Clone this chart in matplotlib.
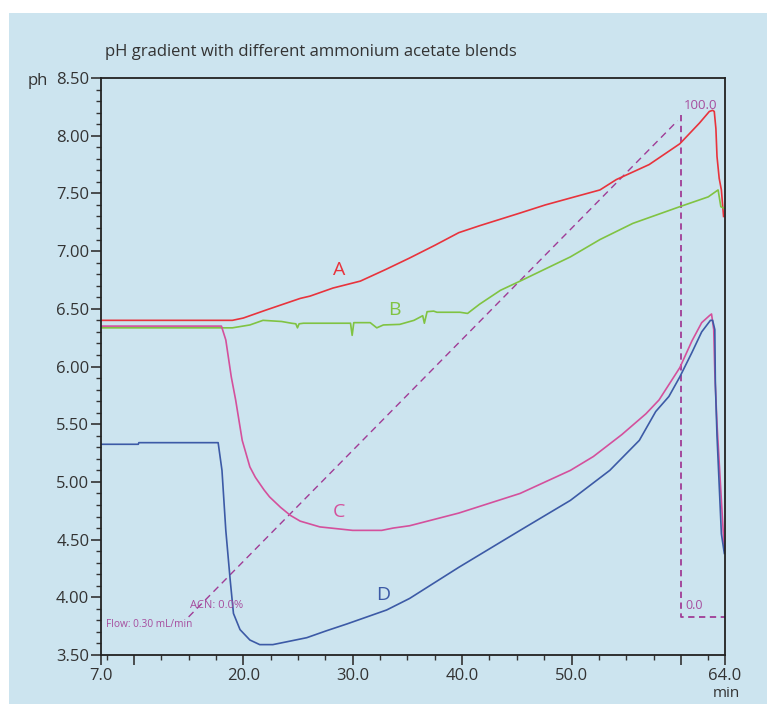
import matplotlib
matplotlib.use("Agg")
import matplotlib.pyplot as plt
from matplotlib.patches import Rectangle
from matplotlib.ticker import MultipleLocator, FormatStrFormatter

plt.rcParams["font.family"] = ["Open Sans", "DejaVu Sans"]

# curve A (red)
a_t = [7, 19.0, 20.0, 22.1, 25.2, 26.1, 28.2, 30.7, 33.0, 35.2, 37.5, 39.7, 41.6,
       45.3, 47.6, 49.9, 52.6, 54.1, 57.1, 59.9, 61.7, 62.6, 62.9, 63.05, 63.2,
       63.3, 63.5, 63.7, 63.9]
a_ph = [6.40, 6.40, 6.42, 6.49, 6.59, 6.61, 6.68, 6.74, 6.84, 6.94, 7.05, 7.16, 7.22,
        7.33, 7.40, 7.46, 7.53, 7.62, 7.75, 7.93, 8.11, 8.21, 8.22, 8.21, 8.06,
        7.82, 7.63, 7.53, 7.30]

# curve B (green)
b_t = [7, 19.0, 20.6, 21.8, 23.5, 24.4, 24.8, 24.95, 25.1, 25.5, 29.8, 29.95, 30.1,
       31.6, 32.2, 32.8, 34.3, 35.6, 36.4, 36.55, 36.8, 37.4, 37.7, 39.8, 40.5,
       41.6, 43.5, 45.3, 49.9, 52.6, 55.6, 59.9, 62.5, 63.4, 63.65, 63.95]
b_ph = [6.335, 6.335, 6.36, 6.40, 6.39, 6.375, 6.37, 6.335, 6.37, 6.375, 6.375, 6.27, 6.38,
        6.38, 6.335, 6.36, 6.365, 6.40, 6.44, 6.375, 6.475, 6.48, 6.47, 6.47, 6.46,
        6.54, 6.66, 6.74, 6.95, 7.10, 7.24, 7.385, 7.47, 7.53, 7.385, 7.37]

# curve C (pink)
c_t = [7, 18.0, 18.4, 18.9, 19.3, 19.9, 20.6, 21.1, 21.9, 22.4, 23.4, 24.3, 25.2,
       27.0, 30.0, 32.65, 33.7, 35.2, 39.7, 45.3, 49.9, 52.0, 54.6, 56.8, 58.0,
       59.9, 61.0, 61.9, 62.6, 62.8, 63.0, 63.1, 63.3, 63.7, 63.97]
c_ph = [6.35, 6.35, 6.23, 5.91, 5.71, 5.36, 5.13, 5.04, 4.93, 4.87, 4.78, 4.71, 4.66,
        4.61, 4.58, 4.58, 4.60, 4.62, 4.73, 4.90, 5.10, 5.22, 5.41, 5.59, 5.71,
        5.99, 6.22, 6.38, 6.44, 6.455, 6.32, 5.95, 5.50, 4.84, 4.41]

# curve D (blue)
d_t = [7, 10.4, 10.45, 17.7, 18.05, 18.4, 18.8, 19.1, 19.7, 20.6, 21.5, 22.7, 24.0,
       25.8, 27.6, 29.5, 33.1, 35.2, 39.7, 45.3, 49.9, 53.5, 56.2, 57.7, 58.9, 59.9,
       61.0, 61.9, 62.7, 62.9, 63.1, 63.15, 63.3, 63.7, 63.97]
d_ph = [5.326, 5.326, 5.34, 5.34, 5.10, 4.58, 4.15, 3.86, 3.72, 3.63, 3.59, 3.59, 3.615,
        3.65, 3.71, 3.77, 3.89, 3.99, 4.26, 4.58, 4.84, 5.10, 5.36, 5.61, 5.74, 5.91,
        6.12, 6.30, 6.40, 6.40, 6.32, 5.85, 5.40, 4.55, 4.38]

# ACN gradient trace (drawn in pH units)
acn_t = [15.0, 59.7]
acn_ph = [3.83, 8.13]
step_t = [60, 60, 64]
step_ph = [8.18, 3.83, 3.83]

x_ticks = [7, 10, 20, 30, 40, 50, 60, 64]
x_labels = ["7.0", "", "20.0", "30.0", "40.0", "50.0", "", "64.0"]

red = "#e8333c"
green = "#80c342"
pink = "#d4509c"
blue = "#3c5aa6"
purple = "#a03c96"
ink = "#333333"

fig = plt.figure(figsize=(7.67, 7.04), dpi=100)
fig.patch.set_facecolor("white")
# light blue panel behind the chart
panel = Rectangle((9 / 767, 0), 1 - 9 / 767, (704 - 13) / 704,
                  transform=fig.transFigure, facecolor="#cce4ef",
                  edgecolor="none", zorder=-10)
fig.add_artist(panel)

ax = fig.add_axes([0.1318, 0.0696, 0.813, 0.8196])
ax.set_facecolor("none")

# gradient lines
ax.plot(acn_t, acn_ph, color=purple, lw=1.0, dashes=(5, 3.5))
ax.plot(step_t, step_ph, color=purple, lw=1.3, dashes=(3.5, 2.5), clip_on=False)

# pH curves
ax.plot(a_t, a_ph, color=red, lw=1.2)
ax.plot(b_t, b_ph, color=green, lw=1.2)
ax.plot(c_t, c_ph, color=pink, lw=1.2)
ax.plot(d_t, d_ph, color=blue, lw=1.2)

# curve letters
ax.text(28.75, 6.795, "A", color=red, fontsize=14, ha="center", va="baseline")
ax.text(33.8, 6.446, "B", color=green, fontsize=14, ha="center", va="baseline")
ax.text(28.75, 4.70, "C", color=pink, fontsize=14, ha="center", va="baseline")
ax.text(32.8, 3.977, "D", color=blue, fontsize=14, ha="center", va="baseline")

# gradient annotations
tcol = "#a64d9e"
ax.text(61.8, 8.229, "100.0", color=tcol, fontsize=9.5, ha="center", va="baseline")
ax.text(61.2, 3.899, "0.0", color=tcol, fontsize=9, ha="center", va="baseline")
ax.text(17.6, 3.907, "ACN: 0.0%", color=tcol, fontsize=8, ha="center", va="baseline")
ax.text(11.4, 3.743, "Flow: 0.30 mL/min", color=tcol, fontsize=7.3, ha="center", va="baseline")

ax.set_xlim(7, 64)
ax.set_ylim(3.5, 8.5)

ax.set_xticks(x_ticks)
ax.set_xticklabels(x_labels)
ax.xaxis.set_minor_locator(MultipleLocator(2.5))
ax.yaxis.set_major_locator(MultipleLocator(0.5))
ax.yaxis.set_major_formatter(FormatStrFormatter("%.2f"))
ax.yaxis.set_minor_locator(MultipleLocator(0.1))

ax.tick_params(which="major", direction="out", length=7, width=1.2, color=ink,
               labelsize=12, labelcolor=ink)
ax.tick_params(which="minor", direction="out", length=3.5, width=1.0, color=ink)
ax.tick_params(axis="y", which="major", pad=1.5)
ax.tick_params(axis="x", which="major", pad=2.5)

for s in ax.spines.values():
    s.set_color("#222222")
    s.set_linewidth(1.3)

# title and axis labels
fig.text(105 / 767, 1 - 56 / 704, "pH gradient with different ammonium acetate blends",
         fontsize=12, color=ink, ha="left", va="baseline")
fig.text(28 / 767, 1 - 85 / 704, "ph", fontsize=12, color=ink, ha="left", va="baseline")
fig.text(726 / 767, 1 - 697 / 704, "min", fontsize=11, color=ink, ha="center", va="baseline")

plt.savefig("out.png", dpi=100)
